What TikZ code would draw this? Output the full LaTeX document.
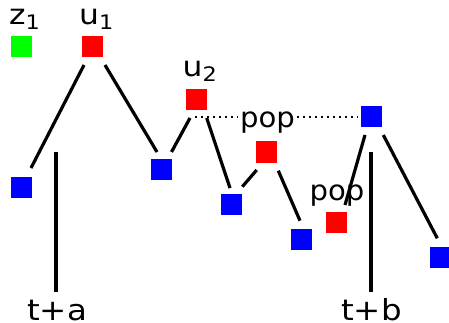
\documentclass[tikz,border=0pt]{standalone}
\usepackage{fontspec}
\setmainfont{DejaVu Sans}
\newfontfamily\popfont[FakeStretch=1.04]{DejaVu Sans}
\newfontfamily\widefont[FakeStretch=1.12]{DejaVu Sans}
\usetikzlibrary{calc}
\newcommand\lowsub[1]{\raisebox{-5pt}{\fontsize{20}{20}\selectfont #1}}
\tikzset{
  sq/.style={minimum size=21pt, inner sep=0pt, outer sep=0pt, draw=none},
  redsq/.style={sq, fill={rgb,255:red,255;green,0;blue,0}},
  bluesq/.style={sq, fill={rgb,255:red,0;green,0;blue,255}},
  greensq/.style={sq, fill={rgb,255:red,0;green,255;blue,0}},
  edge/.style={line width=3.2pt, black},
  dots/.style={line width=2pt, dash pattern=on 2pt off 4pt, black},
  toplbl/.style={inner sep=0pt, font=\widefont\fontsize{28}{32}\selectfont},
  lbl/.style={inner sep=0pt, font=\widefont\fontsize{29}{32}\selectfont},
  poplbl/.style={inner sep=0pt, font=\popfont\fontsize{28}{32}\selectfont},
}
\begin{document}
\begin{tikzpicture}[x=1pt, y=-1pt]
\useasboundingbox (0,0) rectangle (449,323);
% squares
\node[greensq] (z1) at (21,47) {};
\node[redsq] (u1) at (92.5,47) {};
\node[redsq] (u2) at (196,99.5) {};
\node[bluesq] (b1) at (21,187) {};
\node[bluesq] (b2) at (161,169.5) {};
\node[bluesq] (b3) at (231,204.5) {};
\node[redsq] (p1) at (266,152) {};
\node[bluesq] (b4) at (301,239.5) {};
\node[redsq] (p2) at (336,222) {};
\node[bluesq] (br) at (371,117) {};
\node[bluesq] (b5) at (440.5,257) {};
% labels
\node[toplbl, anchor=base west] (lz1) at (9,25) {z\lowsub{1}};
\node[toplbl, anchor=base west] (lu1) at (79,25) {u\lowsub{1}};
\node[toplbl, anchor=base west] (lu2) at (182.5,77) {u\lowsub{2}};
% dotted line
\draw[dots] ($(u2)+(-1,17.5)$) -- ($(br)+(-13,0)$);
\node[poplbl, anchor=base, fill=white, inner xsep=2pt, inner ysep=1pt] (lp1) at (267.4,128) {pop};
\node[poplbl, anchor=base] (lp2) at (337,200) {pop};
% edges
\draw[edge] ($(u1)+(-8.5,18)$) -- ($(b1)+(10,-19)$);
\draw[edge] ($(u1)+(12.5,18)$) -- ($(b2)+(-4,-17.5)$);
\draw[edge] ($(b2)+(10.5,-17.5)$) -- ($(u2)+(-6,18.5)$);
\draw[edge] ($(u2)+(10.7,18.5)$) -- ($(b3)+(-1,-16.5)$);
\draw[edge] ($(b3)+(11.3,-17.8)$) -- ($(p1)+(-9.3,18)$);
\draw[edge] ($(p1)+(12.3,18.7)$) -- ($(b4)+(-1,-18.8)$);
\draw[edge] ($(br)+(-6,18)$) -- ($(p2)+(9,-17)$);
\draw[edge] ($(br)+(12.3,18)$) -- ($(b5)+(-3.2,-18.7)$);
% bottom labels and vertical lines
\node[lbl, anchor=base] (ta) at (57,320) {t+a};
\node[lbl, anchor=base] (tb) at (371.5,320) {t+b};
\coordinate (topA) at (56,152.5);
\coordinate (topB) at (371,152);
\coordinate (botA) at (56,292);
\coordinate (botB) at (371,292);
\draw[edge] (topA) -- (botA);
\draw[edge] (topB) -- (botB);
\end{tikzpicture}
\end{document}
